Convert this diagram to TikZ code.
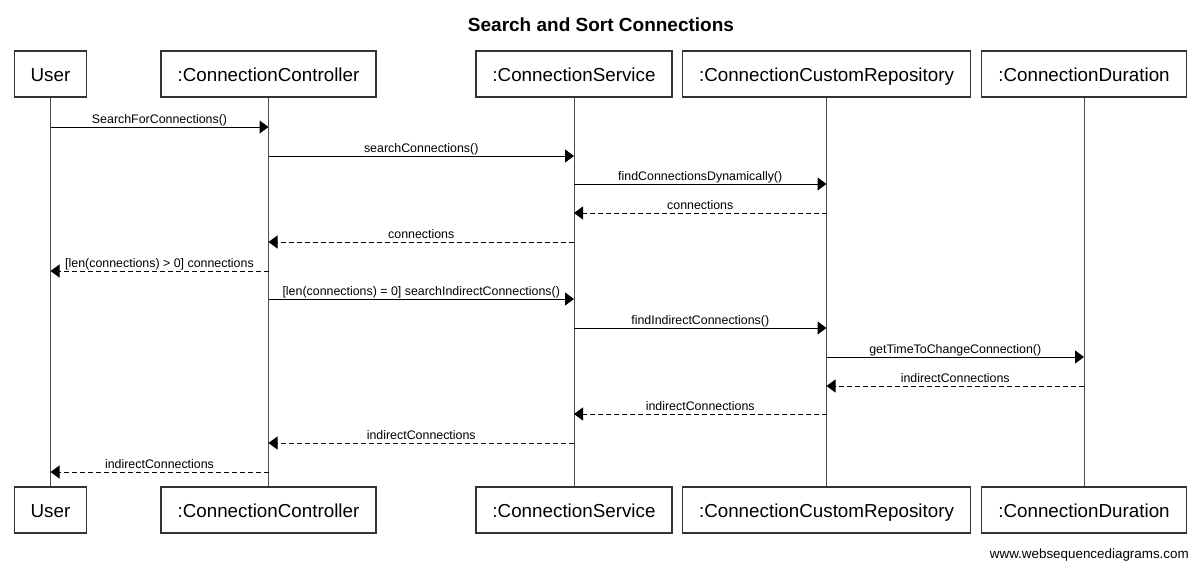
\documentclass[tikz,border=0pt]{standalone}
\usepackage{fontspec}
\setmainfont{Liberation Sans}
\usepackage{xcolor}
\usepackage{tikz}
\usetikzlibrary {arrows.meta}
\tikzset{
  lifebox/.style={draw=black!80, line width=1.2pt, minimum height=46pt, inner xsep=16.5pt, text height=15pt, text depth=0pt, font=\fontsize{18.8}{22}\selectfont},
  lifeline/.style={draw=black!70, line width=1pt},
  call/.style={line width=1pt, arrows = {-Triangle[length=9pt, width=13pt]}},
  reply/.style={call, dash pattern=on 5pt off 3pt},
  msglabel/.style={anchor=base, yshift=4pt, inner sep=0pt, font=\fontsize{12.4}{14}\selectfont},
}

\begin{document}
\begin{tikzpicture}[x=1pt, y=-1pt]
\useasboundingbox (0,0) rectangle (1200,565);
\node [font=\bfseries\fontsize{19}{23}\selectfont] (title) at (601,25) {Search and Sort Connections};
\node [lifebox] (userT) at (50.5,74) {User};
\node [lifebox] (ctrlT) at (268.5,74) {:ConnectionController};
\node [lifebox] (servT) at (574,74) {:ConnectionService};
\node [lifebox] (repoT) at (826.5,74) {:ConnectionCustomRepository};
\node [lifebox] (durT) at (1084,74) {:ConnectionDuration};
\node [lifebox] (userB) at (50.5,510) {User};
\node [lifebox] (ctrlB) at (268.5,510) {:ConnectionController};
\node [lifebox] (servB) at (574,510) {:ConnectionService};
\node [lifebox] (repoB) at (826.5,510) {:ConnectionCustomRepository};
\node [lifebox] (durB) at (1084,510) {:ConnectionDuration};
\foreach \p in {user,ctrl,serv,repo,dur}
  \draw [lifeline] (\p T) -- (\p B);
\foreach \a/\b/\y/\txt in {userT/ctrlT/127/SearchForConnections(),
    ctrlT/servT/156/searchConnections(),
    servT/repoT/184/findConnectionsDynamically(),
    {ctrlT/servT/299/[len(connections) = 0] searchIndirectConnections()},
    servT/repoT/328/findIndirectConnections(),
    repoT/durT/357/getTimeToChangeConnection()}
  \draw [call] (\a |- 0,\y) -- node [msglabel] {\txt} (\b |- 0,\y);
\foreach \a/\b/\y/\txt in {repoT/servT/213/connections,
    servT/ctrlT/242/connections,
    {ctrlT/userT/271/[len(connections) > 0] connections},
    durT/repoT/386/indirectConnections,
    repoT/servT/414/indirectConnections,
    servT/ctrlT/443/indirectConnections,
    ctrlT/userT/472/indirectConnections}
  \draw [reply] (\a |- 0,\y) -- node [msglabel] {\txt} (\b |- 0,\y);
\node [anchor=base east, inner sep=0pt, font=\fontsize{13.4}{15}\selectfont] (footer) at (1189,558) {www.websequencediagrams.com};
\end{tikzpicture}
\end{document}
